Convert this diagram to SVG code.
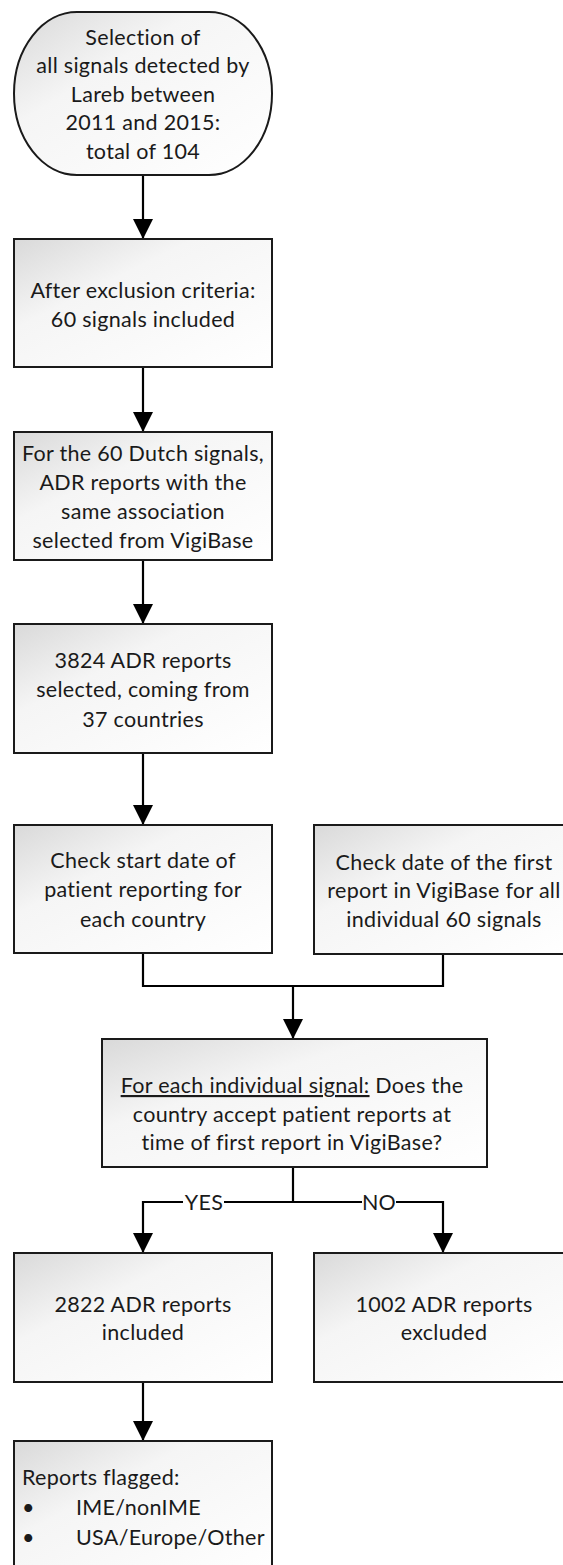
<svg xmlns="http://www.w3.org/2000/svg" width="563" height="1565" viewBox="0 0 563 1565">
<style>
.box{stroke:#1a1a1a;stroke-width:2;fill:url(#g)}
.t{font-family:Lato,"Liberation Sans",sans-serif;font-size:21.5px;letter-spacing:0.3px;fill:#1a1a1a;text-anchor:middle}
.l{text-anchor:start}
.c{stroke:#000;stroke-width:2.2;fill:none}
.a{marker-end:url(#ah)}
</style>
<defs>
<linearGradient id="g" x1="0" y1="0" x2="1" y2="1">
<stop offset="0" stop-color="#d9d9d9"/>
<stop offset="0.35" stop-color="#f5f5f5"/>
<stop offset="1" stop-color="#ffffff"/>
</linearGradient>
<marker id="ah" viewBox="0 0 20 20" refX="20" refY="10" markerWidth="20" markerHeight="20" markerUnits="userSpaceOnUse" orient="auto">
<path d="M0,0 L20,10 L0,20 z" fill="#000"/>
</marker>
</defs>
<rect width="563" height="1565" fill="#fff"/>
<g id="connectors">
<path class="c a" d="M143,175 V239"/>
<path class="c a" d="M143,367 V432"/>
<path class="c a" d="M143,560 V624"/>
<path class="c a" d="M143,753 V825"/>
<path class="c" d="M143,953 V986 H443 V954"/>
<path class="c a" d="M293,986 V1039"/>
<path class="c" d="M293,1167 V1202"/>
<path class="c a" d="M183,1202 H143 V1253"/>
<path class="c" d="M224,1202 H362"/>
<path class="c a" d="M396,1202 H443 V1253"/>
<text class="t" x="204" y="1210">YES</text>
<text class="t" x="379" y="1210">NO</text>
<path class="c a" d="M143,1382 V1441"/>
</g>
<g id="n1">
<rect class="box" x="14" y="12" width="258" height="163" rx="63" ry="81.5"/>
<text class="t" x="143" y="45">Selection of</text>
<text class="t" x="143" y="73">all signals detected by</text>
<text class="t" x="143" y="102">Lareb between</text>
<text class="t" x="143" y="130">2011 and 2015:</text>
<text class="t" x="143" y="159">total of 104</text>
</g>
<g id="n2">
<rect class="box" x="14" y="239" width="258" height="128"/>
<text class="t" x="143" y="298">After exclusion criteria:</text>
<text class="t" x="143" y="327">60 signals included</text>
</g>
<g id="n3">
<rect class="box" x="14" y="432" width="258" height="128"/>
<text class="t" x="143" y="461">For the 60 Dutch signals,</text>
<text class="t" x="143" y="490">ADR reports with the</text>
<text class="t" x="143" y="519">same association</text>
<text class="t" x="143" y="548">selected from VigiBase</text>
</g>
<g id="n4">
<rect class="box" x="14" y="624" width="258" height="129"/>
<text class="t" x="143" y="668">3824 ADR reports</text>
<text class="t" x="143" y="697">selected, coming from</text>
<text class="t" x="143" y="727">37 countries</text>
</g>
<g id="n5">
<rect class="box" x="14" y="825" width="258" height="128"/>
<text class="t" x="143" y="868">Check start date of</text>
<text class="t" x="143" y="897">patient reporting for</text>
<text class="t" x="143" y="927">each country</text>
</g>
<g id="n6">
<rect class="box" x="314" y="825" width="258" height="129"/>
<text class="t" x="444" y="870">Check date of the first</text>
<text class="t" x="444" y="898">report in VigiBase for all</text>
<text class="t" x="444" y="927">individual 60 signals</text>
</g>
<g id="n7">
<rect class="box" x="102" y="1039" width="385" height="128"/>
<text class="t" x="292" y="1093"><tspan text-decoration="underline">For each individual signal:</tspan> Does the</text>
<text class="t" x="292" y="1122">country accept patient reports at</text>
<text class="t" x="292" y="1150">time of first report in VigiBase?</text>
</g>
<g id="n8">
<rect class="box" x="14" y="1253" width="258" height="129"/>
<text class="t" x="143" y="1312">2822 ADR reports</text>
<text class="t" x="143" y="1340">included</text>
</g>
<g id="n9">
<rect class="box" x="314" y="1253" width="258" height="129"/>
<text class="t" x="444" y="1312">1002 ADR reports</text>
<text class="t" x="444" y="1340">excluded</text>
</g>
<g id="n10">
<rect class="box" x="14" y="1441" width="258" height="140"/>
<text class="t l" x="22" y="1485">Reports flagged:</text>
<text class="t l" x="22" y="1515">•</text>
<text class="t l" x="76" y="1515">IME/nonIME</text>
<text class="t l" x="22" y="1545">•</text>
<text class="t l" x="76" y="1545">USA/Europe/Other</text>
</g>
</svg>
